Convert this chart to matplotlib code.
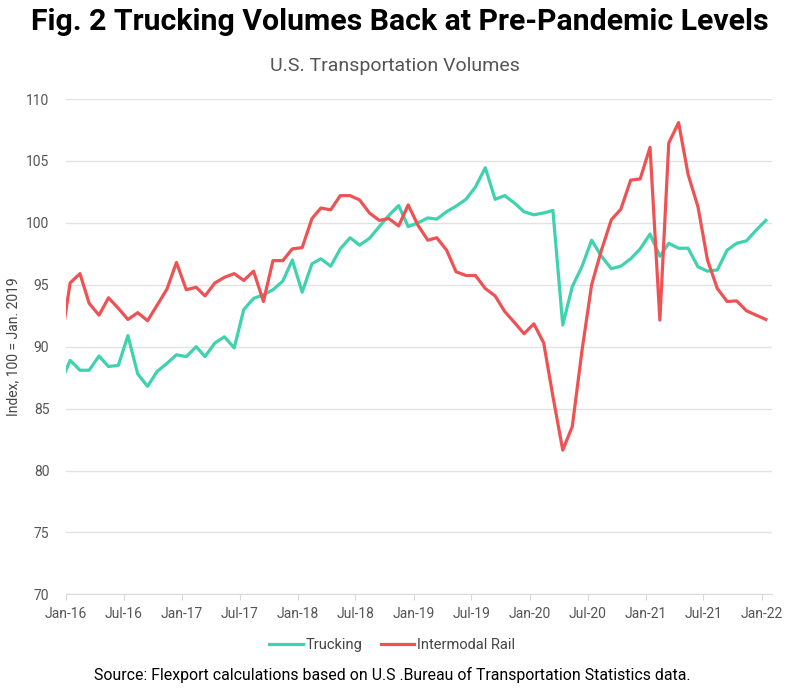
import matplotlib.pyplot as plt
import matplotlib.dates as mdates
import pandas as pd

# monthly index values, Dec-15 .. Jan-22 (first point sits just left of the axis)
months = pd.date_range('2015-12-01', '2022-01-01', freq='MS')

trucking = [87.0, 88.9, 88.1, 88.1, 89.25, 88.4, 88.5, 90.9, 87.8, 86.8, 88.0, 88.65, 89.35,
            89.2, 90.0, 89.2, 90.3, 90.8, 89.9, 93.0, 93.9, 94.2, 94.6, 95.3, 97.0,
            94.4, 96.7, 97.1, 96.5, 97.9, 98.8, 98.2, 98.75, 99.7, 100.6, 101.4, 99.7,
            100.0, 100.4, 100.3, 100.9, 101.35, 101.9, 102.9, 104.45, 101.9, 102.2, 101.6, 100.9,
            100.65, 100.8, 101.0, 91.75, 94.85, 96.5, 98.6, 97.3, 96.3, 96.5, 97.1, 97.9,
            99.1, 97.3, 98.35, 97.95, 97.95, 96.45, 96.1, 96.2, 97.8, 98.35, 98.55, 99.4,
            100.2]

rail = [89.9, 95.15, 95.9, 93.5, 92.55, 93.95, 93.1, 92.2, 92.75, 92.1, 93.35, 94.65, 96.8,
        94.6, 94.8, 94.1, 95.15, 95.6, 95.9, 95.35, 96.1, 93.65, 96.95, 96.95, 97.9,
        98.0, 100.35, 101.2, 101.05, 102.2, 102.2, 101.85, 100.8, 100.2, 100.35, 99.75, 101.45,
        99.8, 98.6, 98.8, 97.8, 96.05, 95.75, 95.75, 94.7, 94.1, 92.85, 91.95, 91.05,
        91.85, 90.3, 86.0, 81.65, 83.55, 89.75, 95.0, 97.8, 100.25, 101.1, 103.45, 103.55,
        106.1, 92.15, 106.45, 108.1, 103.9, 101.3, 97.0, 94.7, 93.65, 93.7, 92.9, 92.55,
        92.2]

yticks = [70, 75, 80, 85, 90, 95, 100, 105, 110]

dates = months + pd.Timedelta(days=13)

green = '#3ED3AE'
red = '#EE5254'
grey = '#555555'

plt.rcParams['font.family'] = ['Roboto', 'DejaVu Sans']

fig = plt.figure(figsize=(8, 6.91), dpi=100)
ax = fig.add_axes([0.0825, 0.1398, 0.882, 0.7169])

ax.plot(dates, trucking, color=green, lw=2.3, label='Trucking')
ax.plot(dates, rail, color=red, lw=2.3, label='Intermodal Rail')

ax.set_xlim(pd.Timestamp('2016-01-01'), pd.Timestamp('2022-02-01'))
ax.set_ylim(70, 110)
ax.set_yticks(yticks)
ax.xaxis.set_major_locator(mdates.MonthLocator(bymonth=(1, 7)))
ax.xaxis.set_major_formatter(mdates.DateFormatter('%b-%y'))

ax.grid(axis='y', color='#e3e3e3', lw=1)
ax.set_axisbelow(True)
for s in ['top', 'right', 'left']:
    ax.spines[s].set_visible(False)
ax.spines['bottom'].set_color('#d9d9d9')
ax.tick_params(axis='y', length=0, pad=12, labelsize=10, labelcolor=grey)
ax.tick_params(axis='x', length=4, color='#d9d9d9', pad=5, labelsize=10, labelcolor=grey)

ax.set_ylabel('Index, 100 = Jan. 2019', fontsize=10, color='#444444', labelpad=4)

fig.text(0.5, 0.968, 'Fig. 2 Trucking Volumes Back at Pre-Pandemic Levels',
         ha='center', va='center', fontsize=21.8, fontweight='bold')
fig.text(0.494, 0.904, 'U.S. Transportation Volumes', ha='center', va='center',
         fontsize=14, color=grey)

fig.legend(loc='center', bbox_to_anchor=(0.49, 0.066), ncol=2, frameon=False,
           fontsize=10.5, handlelength=2.3, handletextpad=0.15, columnspacing=1.3,
           labelcolor='#444444')

fig.text(0.49, 0.023, 'Source: Flexport calculations based on U.S .Bureau of Transportation Statistics data.',
         ha='center', va='center', fontsize=11.4)

fig.savefig('out.png', dpi=100)
